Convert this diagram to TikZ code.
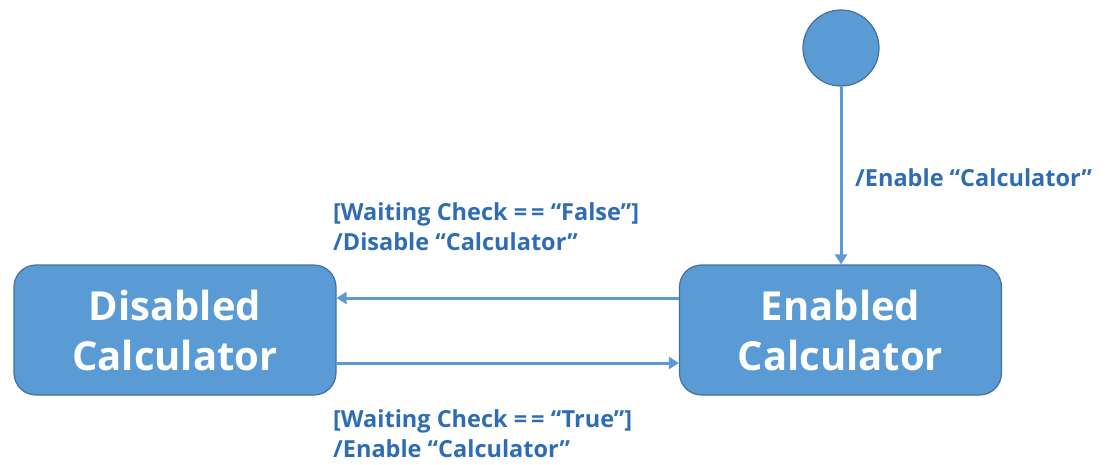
\documentclass[tikz,border=0pt]{standalone}
\usepackage{fontspec}
\setmainfont{Open Sans}
\usetikzlibrary{arrows.meta}
\definecolor{boxfill}{HTML}{5B9BD5}
\definecolor{boxline}{HTML}{41719C}
\definecolor{lbl}{HTML}{2E6DB4}
\begin{document}
\begin{tikzpicture}[x=1pt,y=-1pt,
  state/.style={draw=boxline, line width=1.2pt, fill=boxfill, rounded corners=22pt, minimum width=322pt, minimum height=130pt, text=white, font=\bfseries\fontsize{40}{50}\selectfont, align=center, inner sep=0pt},
  startnode/.style={circle, draw=boxline, line width=1.2pt, fill=boxfill, minimum size=76pt, inner sep=0pt},
  conn/.style={draw=boxfill, line width=3pt, -{Triangle[width=12pt,length=10pt]}},
  lab/.style={text=lbl, font=\bfseries\fontsize{23.5}{30}\selectfont, align=left, inner sep=0pt, anchor=west}
]
\useasboundingbox (0,0) rectangle (1109,464);
\node[state] (dis) at (175,330) {Disabled\\Calculator};
\node[state] (en) at (840.5,330) {Enabled\\Calculator};
\node[startnode] (init) at (841,48) {};
\draw[conn] (init) -- (en.north -| init);
\draw[conn] ([yshift=32pt]en.west) -- ([yshift=32pt]dis.east);
\draw[conn] ([yshift=-33pt]dis.east) -- ([yshift=-33pt]en.west);
\node[lab] (l1) at (855,178) {/Enable “Calculator”};
\node[lab] (l2) at (333,227) {[Waiting Check =\kern4pt= “False”]\\/Disable “Calculator”};
\node[lab] (l3) at (333,434) {[Waiting Check =\kern4pt= “True”]\\/Enable “Calculator”};
\end{tikzpicture}
\end{document}
